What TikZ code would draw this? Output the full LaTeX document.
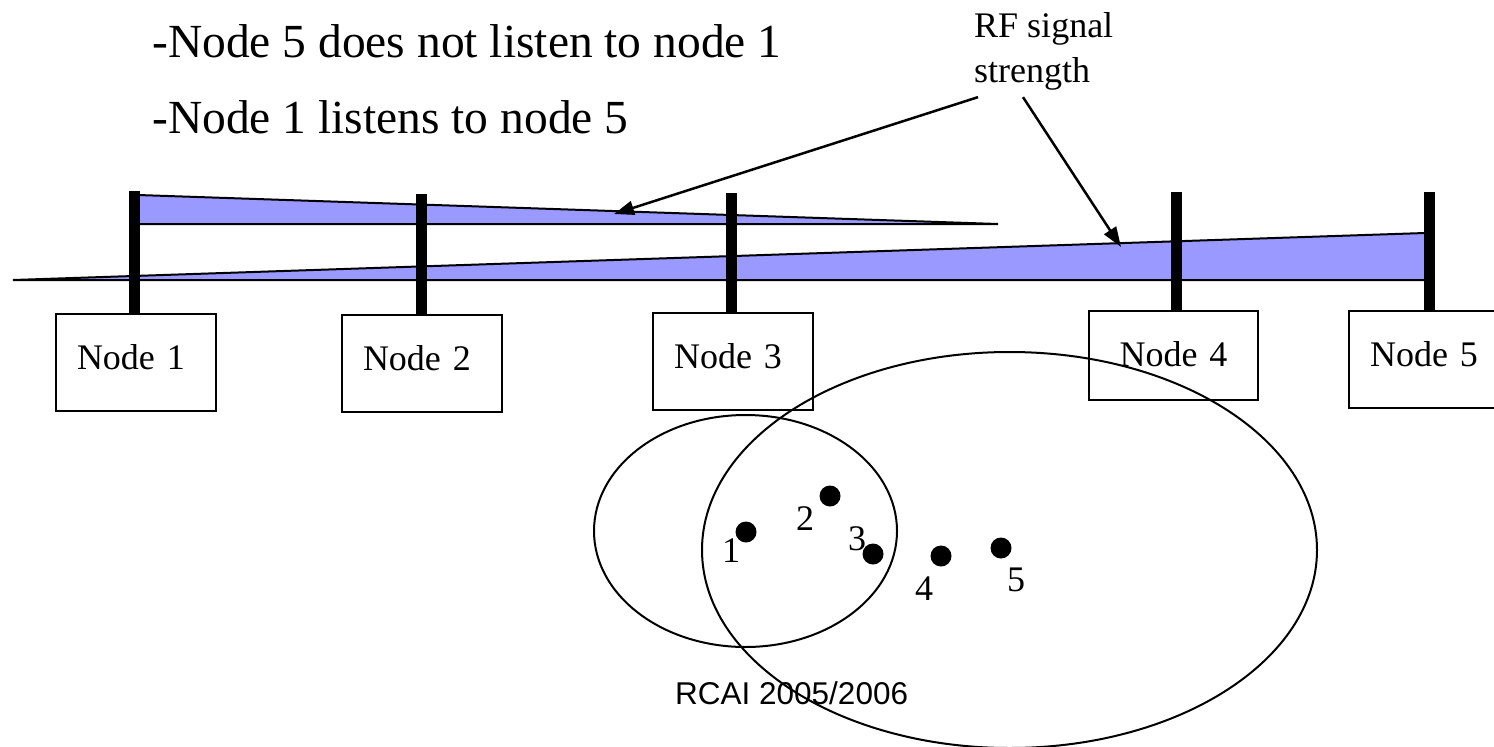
\documentclass[tikz,border=0pt]{standalone}
\usepackage{fontspec}
\setmainfont{Liberation Serif}
\newfontfamily\slidesans{Liberation Sans}
\usetikzlibrary{arrows.meta, positioning, calc}
\definecolor{wedgeblue}{RGB}{153,153,255}

\begin{document}
\begin{tikzpicture}[x=1pt, y=-1pt,
    box/.style={draw, line width=2pt, anchor=north west, minimum height=97pt, text width=118pt,
      inner xsep=21pt, inner ysep=0pt, align=left, text height=25pt, text depth=11pt,
      font=\fontsize{36}{43}\selectfont},
    post/.style={line width=11pt},
    wedge/.style={draw, fill=wedgeblue, line width=2pt},
    callout/.style={line width=2.5pt, -{Triangle[length=20pt, width=14pt]}},
    dot/.style={circle, fill=black, inner sep=0pt, minimum size=21pt},
    digit/.style={inner sep=0pt, font=\fontsize{36}{43}\selectfont},
    slidetext/.style={anchor=base west, inner sep=0pt, font=\fontsize{47.5}{57}\selectfont}]

  \path[use as bounding box, clip] (0,0) rectangle (1494,747);

  % statements
  \node[slidetext] (line1) at (152,57) {-Node 5 does not listen to node 1};
  \node[slidetext] (line2) at (152,133) {-Node 1 listens to node 5};

  % signal strength wedges
  \draw[wedge] (138,195) -- (998,224) -- (138,224) -- cycle;
  \draw[wedge] (13,280) -- (1425,233) -- (1425,280) -- cycle;

  % nodes on the bus
  \node[box] (n1) at (55,313) {Node 1};
  \node[box] (n2) at (341,314) {Node 2};
  \node[box] (n3) at (652,312) {Node 3};
  \node[box, text width=127pt, align=center, minimum height=89pt, text depth=4pt] (n4) at (1088,310) {Node 4};
  \node[box] (n5) at (1348,310) {Node 5};

  % antennas
  \foreach \n/\x/\y in {n1/134/191, n2/421/194, n3/731/193, n4/1176/192, n5/1429/192}
    \draw[post] (\x,\y) -- (\x,0 |- \n.north);

  % RF label and callouts
  \node[anchor=north west, inner sep=0pt, align=left, font=\fontsize{36}{45}\selectfont] (rflabel) at (974,12) {RF signal\\strength};
  \coordinate (tipa) at (614,214);
  \coordinate (tipb) at (1121,247);
  \draw[callout] ($(rflabel.south west)+(4,7)$) -- (tipa);
  \draw[callout] ($(rflabel.south west)+(49,7)$) -- (tipb);

  % radio ranges
  \draw[line width=2pt] (745.5,531) ellipse [x radius=151.5, y radius=116];
  \draw[line width=2pt] (1009.5,550) ellipse [x radius=307.5, y radius=198];

  % stations
  \node[dot] (d1) at (746,532) {};
  \node[dot] (d2) at (830,496) {};
  \node[dot] (d3) at (873,554) {};
  \node[dot] (d4) at (941,556) {};
  \node[dot] (d5) at (1001,548) {};
  \node[digit] (l1) at (731,551) {1};
  \node[digit] (l2) at (805,519) {2};
  \node[digit] (l3) at (857,539) {3};
  \node[digit] (l4) at (924,589) {4};
  \node[digit] (l5) at (1016,580) {5};

  \node[anchor=base west, inner sep=0pt, font=\slidesans\fontsize{31.5}{38}\selectfont] (footer) at (675,704) {RCAI 2005/2006};
\end{tikzpicture}
\end{document}
